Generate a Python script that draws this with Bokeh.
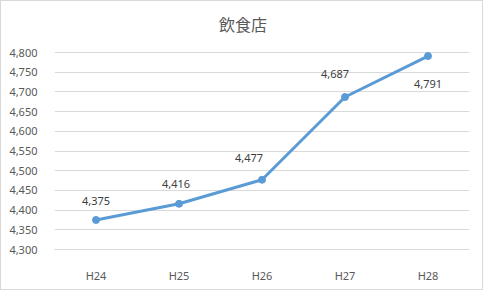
from bokeh.plotting import figure
from bokeh.models import FactorRange, Range1d, NumeralTickFormatter, ColumnDataSource, FixedTicker, Label
from bokeh.core.properties import value
from bokeh.embed import file_html
from bokeh.resources import INLINE

# 飲食店 counts by fiscal year
years = ["H24", "H25", "H26", "H27", "H28"]
counts = [4375, 4416, 4477, 4687, 4791]
count_labels = ["4,375", "4,416", "4,477", "4,687", "4,791"]

# label placement (screen px offsets from each point)
label_dx = [0, -3, -13, -10, 0]
label_dy = [-19, -20, -22, -23, 28]

LINE = "#5b9bd5"
GRID = "#d9d9d9"
TXT = "#595959"
FONT = "Noto Sans"

Y_MIN, Y_MAX = 4300, 4800
W, H = 483, 290
BORDER_L, BORDER_R, BORDER_B = 53, 15, 42
GRID_PX = 197                      # pixel height of the 4,300–4,800 band
frame_h = H - BORDER_B             # frame reaches the top so the title sits inside it
y_end = Y_MIN + (Y_MAX - Y_MIN) * frame_h / GRID_PX

p = figure(width=W, height=H, output_backend="svg", toolbar_location=None,
           x_range=FactorRange(*years, range_padding=0), y_range=Range1d(Y_MIN, y_end),
           min_border_left=BORDER_L, min_border_right=BORDER_R, min_border_top=0,
           min_border_bottom=BORDER_B)

p.outline_line_color = None
p.border_fill_color = "white"
p.background_fill_color = "white"
p.styles = {"border": "1px solid #d9d9d9"}

# chart title, centred over the whole canvas (frame-relative screen units)
title = Label(x=W / 2 - BORDER_L, y=frame_h - 22, x_units="screen", y_units="screen",
              text="飲食店", text_align="center", text_baseline="middle",
              text_font="Noto Sans CJK JP", text_font_size="16px", text_color=TXT)
p.add_layout(title)

# axes
p.yaxis.ticker = FixedTicker(ticks=list(range(Y_MIN, Y_MAX + 1, 50)))
p.yaxis.formatter = NumeralTickFormatter(format="0,0")
p.yaxis.axis_line_color = None
p.yaxis.major_tick_line_color = None
p.yaxis.minor_tick_line_color = None
p.yaxis.major_label_text_font_size = "11px"
p.yaxis.major_label_text_color = TXT
p.yaxis.major_label_text_font = FONT
p.yaxis.major_label_standoff = 11

p.xaxis.axis_line_color = GRID
p.xaxis.major_tick_line_color = None
p.xaxis.minor_tick_line_color = None
p.xaxis.major_label_text_font_size = "11px"
p.xaxis.major_label_text_color = TXT
p.xaxis.major_label_text_font = FONT
p.xaxis.major_label_standoff = 12

p.xgrid.grid_line_color = None
p.ygrid.grid_line_color = GRID

src = ColumnDataSource(dict(x=years, y=counts, lab=count_labels, dx=label_dx, dy=label_dy))

p.line("x", "y", source=src, line_color=LINE, line_width=3)
p.scatter("x", "y", source=src, size=7, fill_color=LINE, line_color=LINE)

p.text("x", "y", text="lab", source=src, x_offset="dx", y_offset="dy",
       text_align="center", text_baseline="middle", text_font=value(FONT),
       text_font_size="11px", text_color="#404040")

html = file_html(p, INLINE)
html = html.replace("</head>", "<style>html,body{margin:0;padding:0}</style></head>", 1)
open("out.html", "w").write(html)
